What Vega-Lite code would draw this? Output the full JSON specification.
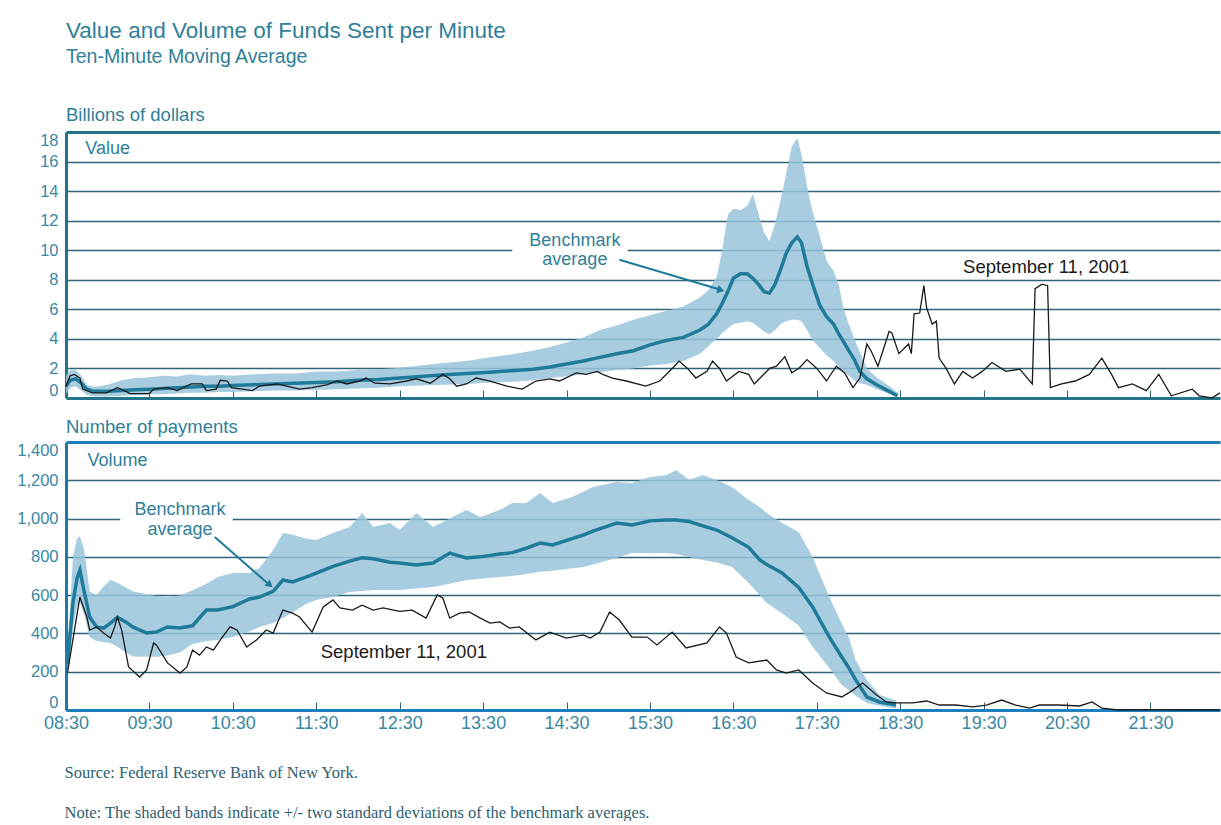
{
  "$schema": "https://vega.github.io/schema/vega-lite/v6.json",
  "background": "white",
  "padding": {"left": 0, "right": 0, "top": 19, "bottom": 0},
  "title": {"text": "Value and Volume of Funds Sent per Minute", "subtitle": "Ten-Minute Moving Average", "anchor": "start", "frame": "group", "dx": 0, "fontSize": 22.5, "subtitleFontSize": 19.5, "color": "#2f7f99", "subtitleColor": "#2f7f99", "fontWeight": "normal", "font": "Liberation Sans", "subtitleFont": "Liberation Sans", "subtitlePadding": 6, "offset": 39},
  "spacing": 14,
  "datasets": {
    "valueBench": [
      {"m":510,"lo":0.3,"avg":0.8,"hi":1.5},{"m":513,"lo":0.7,"avg":1.2,"hi":1.9},{"m":517,"lo":0.8,"avg":1.3,"hi":1.9},{"m":521,"lo":0.5,"avg":1.0,"hi":1.5},{"m":525,"lo":0.2,"avg":0.6,"hi":0.9},{"m":530,"lo":0.1,"avg":0.45,"hi":0.75},{"m":540,"lo":0.1,"avg":0.45,"hi":0.9},{"m":550,"lo":0.15,"avg":0.5,"hi":1.2},{"m":560,"lo":0.2,"avg":0.55,"hi":1.35},{"m":570,"lo":0.25,"avg":0.6,"hi":1.4},{"m":580,"lo":0.25,"avg":0.65,"hi":1.5},{"m":590,"lo":0.3,"avg":0.7,"hi":1.45},{"m":600,"lo":0.35,"avg":0.75,"hi":1.6},{"m":610,"lo":0.35,"avg":0.8,"hi":1.5},{"m":620,"lo":0.4,"avg":0.8,"hi":1.55},{"m":630,"lo":0.4,"avg":0.85,"hi":1.5},{"m":645,"lo":0.45,"avg":0.9,"hi":1.6},{"m":660,"lo":0.5,"avg":0.95,"hi":1.65},{"m":675,"lo":0.5,"avg":1.0,"hi":1.65},{"m":690,"lo":0.55,"avg":1.05,"hi":1.8},{"m":705,"lo":0.6,"avg":1.1,"hi":1.8},{"m":720,"lo":0.65,"avg":1.2,"hi":1.9},{"m":735,"lo":0.7,"avg":1.25,"hi":1.95},{"m":750,"lo":0.8,"avg":1.35,"hi":2.05},{"m":765,"lo":0.85,"avg":1.45,"hi":2.2},{"m":780,"lo":0.9,"avg":1.55,"hi":2.35},{"m":798,"lo":0.95,"avg":1.65,"hi":2.5},{"m":815,"lo":1.05,"avg":1.75,"hi":2.75},{"m":830,"lo":1.1,"avg":1.85,"hi":2.95},{"m":846,"lo":1.2,"avg":1.95,"hi":3.2},{"m":858,"lo":1.35,"avg":2.1,"hi":3.45},{"m":870,"lo":1.45,"avg":2.3,"hi":3.75},{"m":882,"lo":1.6,"avg":2.5,"hi":4.1},{"m":894,"lo":1.75,"avg":2.75,"hi":4.6},{"m":906,"lo":1.9,"avg":3.0,"hi":4.9},{"m":918,"lo":2.0,"avg":3.2,"hi":5.3},{"m":930,"lo":2.2,"avg":3.6,"hi":5.6},{"m":942,"lo":2.3,"avg":3.9,"hi":5.9},{"m":954,"lo":2.5,"avg":4.1,"hi":6.2},{"m":966,"lo":3.0,"avg":4.6,"hi":6.8},{"m":972,"lo":3.5,"avg":5.0,"hi":7.3},{"m":978,"lo":4.0,"avg":5.7,"hi":8.2},{"m":982,"lo":4.4,"avg":6.4,"hi":10.0},{"m":986,"lo":4.7,"avg":7.2,"hi":12.4},{"m":990,"lo":5.0,"avg":8.1,"hi":12.8},{"m":995,"lo":5.1,"avg":8.4,"hi":12.7},{"m":1000,"lo":5.2,"avg":8.4,"hi":13.0},{"m":1004,"lo":5.1,"avg":8.1,"hi":13.8},{"m":1008,"lo":4.8,"avg":7.7,"hi":12.5},{"m":1012,"lo":4.5,"avg":7.2,"hi":11.2},{"m":1016,"lo":4.3,"avg":7.1,"hi":10.6},{"m":1020,"lo":4.6,"avg":7.7,"hi":11.8},{"m":1024,"lo":5.0,"avg":8.7,"hi":13.4},{"m":1028,"lo":5.2,"avg":9.8,"hi":15.2},{"m":1032,"lo":5.3,"avg":10.5,"hi":17.0},{"m":1036,"lo":5.3,"avg":10.9,"hi":17.6},{"m":1039,"lo":5.2,"avg":10.5,"hi":16.5},{"m":1043,"lo":4.6,"avg":8.9,"hi":14.3},{"m":1047,"lo":3.9,"avg":7.7,"hi":12.6},{"m":1052,"lo":3.4,"avg":6.3,"hi":11.0},{"m":1057,"lo":2.9,"avg":5.5,"hi":9.3},{"m":1062,"lo":2.5,"avg":5.0,"hi":8.6},{"m":1066,"lo":2.1,"avg":4.3,"hi":7.6},{"m":1069,"lo":1.8,"avg":3.85,"hi":6.1},{"m":1073,"lo":1.5,"avg":3.2,"hi":5.0},{"m":1077,"lo":1.2,"avg":2.6,"hi":4.0},{"m":1081,"lo":1.0,"avg":1.8,"hi":3.1},{"m":1086,"lo":0.9,"avg":1.3,"hi":2.0},{"m":1093,"lo":0.6,"avg":0.9,"hi":1.4},{"m":1100,"lo":0.35,"avg":0.55,"hi":0.95},{"m":1108,"lo":0.05,"avg":0.15,"hi":0.35}
    ],
    "value911": [
      {"m":510,"v":0.8},{"m":513,"v":1.5},{"m":516,"v":1.6},{"m":520,"v":1.35},{"m":522,"v":0.6},{"m":529,"v":0.35},{"m":539,"v":0.35},{"m":547,"v":0.7},{"m":552,"v":0.5},{"m":556,"v":0.3},{"m":570,"v":0.3},{"m":573,"v":0.6},{"m":583,"v":0.7},{"m":590,"v":0.5},{"m":600,"v":0.95},{"m":608,"v":0.95},{"m":611,"v":0.5},{"m":618,"v":0.6},{"m":621,"v":1.2},{"m":626,"v":1.15},{"m":629,"v":0.7},{"m":637,"v":0.6},{"m":644,"v":0.5},{"m":649,"v":0.8},{"m":662,"v":0.95},{"m":671,"v":0.75},{"m":678,"v":0.6},{"m":687,"v":0.7},{"m":698,"v":0.9},{"m":705,"v":1.15},{"m":712,"v":0.95},{"m":721,"v":1.15},{"m":726,"v":1.35},{"m":732,"v":1.0},{"m":743,"v":0.95},{"m":755,"v":1.15},{"m":762,"v":1.3},{"m":772,"v":1.0},{"m":781,"v":1.6},{"m":786,"v":1.3},{"m":791,"v":0.8},{"m":798,"v":0.95},{"m":805,"v":1.35},{"m":815,"v":1.15},{"m":827,"v":0.8},{"m":838,"v":0.6},{"m":848,"v":1.15},{"m":858,"v":1.3},{"m":865,"v":1.15},{"m":877,"v":1.7},{"m":884,"v":1.6},{"m":892,"v":1.8},{"m":896,"v":1.6},{"m":903,"v":1.35},{"m":913,"v":1.15},{"m":927,"v":0.8},{"m":937,"v":1.15},{"m":946,"v":2.0},{"m":951,"v":2.5},{"m":957,"v":2.0},{"m":963,"v":1.35},{"m":971,"v":1.8},{"m":975,"v":2.5},{"m":980,"v":2.0},{"m":985,"v":1.15},{"m":994,"v":1.8},{"m":1001,"v":1.6},{"m":1005,"v":0.95},{"m":1016,"v":2.0},{"m":1021,"v":2.15},{"m":1027,"v":2.8},{"m":1032,"v":1.7},{"m":1037,"v":2.0},{"m":1043,"v":2.6},{"m":1050,"v":2.0},{"m":1057,"v":1.15},{"m":1064,"v":2.15},{"m":1070,"v":1.7},{"m":1076,"v":0.7},{"m":1081,"v":1.35},{"m":1086,"v":3.65},{"m":1089,"v":3.2},{"m":1094,"v":2.15},{"m":1102,"v":4.5},{"m":1104,"v":4.4},{"m":1109,"v":3.0},{"m":1116,"v":3.65},{"m":1118,"v":3.0},{"m":1120,"v":5.7},{"m":1124,"v":5.75},{"m":1127,"v":7.6},{"m":1129,"v":6.1},{"m":1133,"v":5.0},{"m":1136,"v":5.2},{"m":1138,"v":2.7},{"m":1143,"v":2.0},{"m":1149,"v":0.95},{"m":1155,"v":1.8},{"m":1162,"v":1.35},{"m":1169,"v":1.8},{"m":1176,"v":2.4},{"m":1186,"v":1.8},{"m":1196,"v":1.95},{"m":1205,"v":0.95},{"m":1207,"v":7.4},{"m":1212,"v":7.7},{"m":1216,"v":7.6},{"m":1218,"v":0.7},{"m":1226,"v":0.95},{"m":1236,"v":1.15},{"m":1246,"v":1.6},{"m":1255,"v":2.7},{"m":1262,"v":1.6},{"m":1267,"v":0.7},{"m":1277,"v":0.95},{"m":1287,"v":0.5},{"m":1296,"v":1.6},{"m":1305,"v":0.15},{"m":1320,"v":0.6},{"m":1325,"v":0.15},{"m":1334,"v":0.0},{"m":1340,"v":0.35}
    ],
    "volumeBench": [
      {"m":511,"lo":190,"avg":240,"hi":280},{"m":515,"lo":430,"avg":560,"hi":800},{"m":518,"lo":540,"avg":690,"hi":900},{"m":520,"lo":560,"avg":731,"hi":906},{"m":523,"lo":500,"avg":620,"hi":840},{"m":527,"lo":380,"avg":486,"hi":620},{"m":532,"lo":360,"avg":434,"hi":600},{"m":537,"lo":355,"avg":428,"hi":645},{"m":542,"lo":350,"avg":454,"hi":680},{"m":547,"lo":330,"avg":484,"hi":665},{"m":553,"lo":300,"avg":460,"hi":640},{"m":558,"lo":280,"avg":434,"hi":620},{"m":568,"lo":278,"avg":402,"hi":605},{"m":575,"lo":278,"avg":407,"hi":595},{"m":583,"lo":285,"avg":434,"hi":590},{"m":592,"lo":300,"avg":428,"hi":598},{"m":601,"lo":345,"avg":440,"hi":625},{"m":611,"lo":360,"avg":522,"hi":660},{"m":619,"lo":366,"avg":522,"hi":695},{"m":630,"lo":381,"avg":540,"hi":716},{"m":642,"lo":410,"avg":580,"hi":716},{"m":649,"lo":434,"avg":590,"hi":740},{"m":659,"lo":454,"avg":620,"hi":836},{"m":666,"lo":480,"avg":679,"hi":925},{"m":673,"lo":510,"avg":669,"hi":915},{"m":683,"lo":555,"avg":695,"hi":895},{"m":690,"lo":575,"avg":715,"hi":888},{"m":702,"lo":590,"avg":750,"hi":925},{"m":714,"lo":616,"avg":778,"hi":956},{"m":723,"lo":622,"avg":795,"hi":1029},{"m":731,"lo":627,"avg":790,"hi":956},{"m":743,"lo":627,"avg":772,"hi":977},{"m":750,"lo":627,"avg":768,"hi":940},{"m":762,"lo":635,"avg":757,"hi":1029},{"m":774,"lo":643,"avg":768,"hi":956},{"m":786,"lo":660,"avg":820,"hi":1000},{"m":798,"lo":679,"avg":794,"hi":1045},{"m":808,"lo":685,"avg":800,"hi":1008},{"m":822,"lo":695,"avg":815,"hi":1045},{"m":831,"lo":700,"avg":822,"hi":1081},{"m":841,"lo":710,"avg":845,"hi":1081},{"m":851,"lo":722,"avg":872,"hi":1134},{"m":860,"lo":728,"avg":862,"hi":1081},{"m":874,"lo":740,"avg":895,"hi":1113},{"m":882,"lo":747,"avg":914,"hi":1140},{"m":889,"lo":760,"avg":935,"hi":1165},{"m":906,"lo":794,"avg":977,"hi":1191},{"m":917,"lo":820,"avg":966,"hi":1186},{"m":930,"lo":820,"avg":988,"hi":1217},{"m":942,"lo":820,"avg":993,"hi":1228},{"m":949,"lo":815,"avg":993,"hi":1254},{"m":958,"lo":799,"avg":985,"hi":1202},{"m":968,"lo":784,"avg":962,"hi":1228},{"m":978,"lo":770,"avg":940,"hi":1202},{"m":989,"lo":747,"avg":900,"hi":1165},{"m":1001,"lo":663,"avg":850,"hi":1097},{"m":1009,"lo":600,"avg":784,"hi":1060},{"m":1014,"lo":559,"avg":760,"hi":1029},{"m":1025,"lo":506,"avg":716,"hi":977},{"m":1037,"lo":440,"avg":640,"hi":930},{"m":1047,"lo":330,"avg":538,"hi":799},{"m":1059,"lo":220,"avg":381,"hi":590},{"m":1068,"lo":130,"avg":277,"hi":450},{"m":1073,"lo":104,"avg":220,"hi":381},{"m":1078,"lo":75,"avg":157,"hi":260},{"m":1086,"lo":37,"avg":68,"hi":157},{"m":1095,"lo":22,"avg":42,"hi":80},{"m":1107,"lo":8,"avg":26,"hi":50}
    ],
    "volume911": [
      {"m":511,"v":193},{"m":520,"v":590},{"m":525,"v":486},{"m":527,"v":418},{"m":532,"v":434},{"m":537,"v":402},{"m":542,"v":376},{"m":545,"v":434},{"m":547,"v":486},{"m":550,"v":418},{"m":555,"v":225},{"m":563,"v":172},{"m":568,"v":209},{"m":573,"v":350},{"m":575,"v":340},{"m":583,"v":246},{"m":592,"v":193},{"m":597,"v":225},{"m":601,"v":313},{"m":606,"v":287},{"m":611,"v":329},{"m":616,"v":313},{"m":621,"v":366},{"m":628,"v":434},{"m":633,"v":418},{"m":640,"v":329},{"m":647,"v":366},{"m":654,"v":418},{"m":659,"v":402},{"m":666,"v":522},{"m":673,"v":506},{"m":678,"v":486},{"m":687,"v":407},{"m":695,"v":538},{"m":702,"v":575},{"m":707,"v":533},{"m":716,"v":522},{"m":723,"v":548},{"m":731,"v":522},{"m":738,"v":533},{"m":750,"v":515},{"m":759,"v":522},{"m":769,"v":480},{"m":777,"v":601},{"m":781,"v":585},{"m":786,"v":480},{"m":793,"v":506},{"m":800,"v":512},{"m":808,"v":480},{"m":815,"v":454},{"m":822,"v":460},{"m":829,"v":428},{"m":836,"v":434},{"m":848,"v":366},{"m":858,"v":407},{"m":870,"v":376},{"m":882,"v":392},{"m":887,"v":376},{"m":894,"v":407},{"m":901,"v":512},{"m":908,"v":470},{"m":917,"v":381},{"m":928,"v":381},{"m":935,"v":340},{"m":946,"v":407},{"m":956,"v":324},{"m":971,"v":350},{"m":980,"v":434},{"m":985,"v":402},{"m":992,"v":277},{"m":1001,"v":246},{"m":1014,"v":261},{"m":1021,"v":209},{"m":1028,"v":193},{"m":1037,"v":209},{"m":1047,"v":141},{"m":1057,"v":89},{"m":1068,"v":68},{"m":1076,"v":104},{"m":1083,"v":141},{"m":1093,"v":78},{"m":1100,"v":42},{"m":1107,"v":37},{"m":1119,"v":37},{"m":1129,"v":47},{"m":1138,"v":26},{"m":1150,"v":26},{"m":1162,"v":16},{"m":1172,"v":26},{"m":1183,"v":52},{"m":1193,"v":26},{"m":1203,"v":10},{"m":1210,"v":26},{"m":1224,"v":26},{"m":1239,"v":21},{"m":1248,"v":42},{"m":1255,"v":10},{"m":1267,"v":0},{"m":1290,"v":2},{"m":1310,"v":0},{"m":1340,"v":0}
    ]
  },
  "vconcat": [
    {
      "width": 1154,
      "height": 266,
      "title": {"text": "Billions of dollars", "anchor": "start", "frame": "group", "fontSize": 18.5, "fontWeight": "normal", "color": "#2f7f99", "font": "Liberation Sans", "offset": 8},
      "layer": [
        {
          "data": {"name": "valueBench"},
          "mark": {"type": "area", "color": "#99c4db", "opacity": 0.85},
          "encoding": {
            "x": {"field": "m", "type": "quantitative", "scale": {"domain": [510, 1340], "nice": false, "zero": false},
                  "axis": {"values": [570, 630, 690, 750, 810, 870, 930, 990, 1050, 1110, 1170, 1230, 1290], "tickCount": 40, "labels": false, "ticks": true, "tickSize": -8, "tickColor": "#2c6678", "tickWidth": 1, "domain": false, "grid": false, "title": null}},
            "y": {"field": "lo", "type": "quantitative", "scale": {"domain": [0, 18], "nice": false},
                  "axis": {"values": [0, 2, 4, 6, 8, 10, 12, 14, 16, 18], "format": "d", "tickCount": 30, "labelOverlap": false, "title": null, "grid": true,
                           "gridColor": {"condition": {"test": "datum.value == 0 || datum.value == 18", "value": "#24748c"}, "value": "#2c6678"},
                           "gridWidth": {"condition": {"test": "datum.value == 0 || datum.value == 18", "value": 3}, "value": 1.3},
                           "domain": true, "domainColor": "#24748c", "domainWidth": 3, "ticks": false, "labelFlush": true,
                           "labelFont": "Liberation Sans", "labelFontSize": 16.5, "labelColor": "#3a88a3", "labelPadding": 8, "minExtent": 66, "maxExtent": 66}},
            "y2": {"field": "hi"}
          }
        },
        {
          "data": {"values": [{"m1": 831, "m2": 914, "v1": 9.75, "v2": 10.3}]},
          "mark": {"type": "rect", "color": "white"},
          "encoding": {"x": {"field": "m1", "type": "quantitative"}, "x2": {"field": "m2"}, "y": {"field": "v1", "type": "quantitative"}, "y2": {"field": "v2"}}
        },
        {
          "data": {"name": "valueBench"},
          "mark": {"type": "line", "color": "#1f7b99", "strokeWidth": 3.5},
          "encoding": {"x": {"field": "m", "type": "quantitative"}, "y": {"field": "avg", "type": "quantitative"}}
        },
        {
          "data": {"name": "value911"},
          "mark": {"type": "line", "color": "#1a1a1a", "strokeWidth": 1.3},
          "encoding": {"x": {"field": "m", "type": "quantitative"}, "y": {"field": "v", "type": "quantitative"}}
        },
        {
          "data": {"values": [{"m": 540, "v": 16.85, "t": "Value"}, {"m": 876, "v": 10.6, "t": "Benchmark"}, {"m": 876, "v": 9.37, "t": "average"}]},
          "mark": {"type": "text", "color": "#2f7f99", "fontSize": 18, "font": "Liberation Sans", "align": "center", "baseline": "middle"},
          "encoding": {"x": {"field": "m", "type": "quantitative"}, "y": {"field": "v", "type": "quantitative"}, "text": {"field": "t"}}
        },
        {
          "data": {"values": [{"m": 1215, "v": 8.86, "t": "September 11, 2001"}]},
          "mark": {"type": "text", "color": "#1a1a1a", "fontSize": 18.5, "font": "Liberation Sans", "align": "center", "baseline": "middle"},
          "encoding": {"x": {"field": "m", "type": "quantitative"}, "y": {"field": "v", "type": "quantitative"}, "text": {"field": "t"}}
        },
        {
          "data": {"values": [{"m1": 908, "v1": 9.35, "m2": 979, "v2": 7.38}]},
          "mark": {"type": "rule", "color": "#1f7b99", "strokeWidth": 2},
          "encoding": {"x": {"field": "m1", "type": "quantitative"}, "x2": {"field": "m2"}, "y": {"field": "v1", "type": "quantitative"}, "y2": {"field": "v2"}}
        },
        {
          "data": {"values": [{"m": 981, "v": 7.3}]},
          "mark": {"type": "point", "shape": "triangle-right", "angle": 16, "size": 70, "filled": true, "color": "#1f7b99", "opacity": 1},
          "encoding": {"x": {"field": "m", "type": "quantitative"}, "y": {"field": "v", "type": "quantitative"}}
        }
      ]
    },
    {
      "width": 1154,
      "height": 268,
      "title": {"text": "Number of payments", "anchor": "start", "frame": "group", "fontSize": 18.5, "fontWeight": "normal", "color": "#2f7f99", "font": "Liberation Sans", "offset": 6},
      "layer": [
        {
          "data": {"name": "volumeBench"},
          "mark": {"type": "area", "color": "#99c4db", "opacity": 0.85},
          "encoding": {
            "x": {"field": "m", "type": "quantitative", "scale": {"domain": [510, 1340], "nice": false, "zero": false},
                  "axis": {"values": [510, 570, 630, 690, 750, 810, 870, 930, 990, 1050, 1110, 1170, 1230, 1290], "tickCount": 40,
                           "labelExpr": "(floor(datum.value/60) < 10 ? '0' : '') + floor(datum.value/60) + ':' + (datum.value % 60 < 10 ? '0' : '') + (datum.value % 60)",
                           "labelFont": "Liberation Sans", "labelFontSize": 18, "labelColor": "#3a88a3", "labelPadding": 12, "labelFlush": false, "labelOverlap": false,
                           "ticks": true, "tickSize": -8, "tickColor": "#2c6678", "tickWidth": 1,
                           "domain": true, "domainColor": "#1b7fc0", "domainWidth": 3, "grid": false,
                           "title": ["Source: Federal Reserve Bank of New York.", "Note: The shaded bands indicate +/- two standard deviations of the benchmark averages."],
                           "titleFont": "Liberation Serif", "titleFontSize": 16.5, "titleFontWeight": "normal", "titleColor": "#2e6070",
                           "titleAnchor": "start", "titleAlign": "left", "titleBaseline": "top", "titleX": -2, "titleY": 54, "titleLineHeight": 40}},
            "y": {"field": "lo", "type": "quantitative", "scale": {"domain": [0, 1400], "nice": false},
                  "axis": {"values": [0, 200, 400, 600, 800, 1000, 1200, 1400], "tickCount": 30, "labelOverlap": false, "format": ",d", "title": null, "grid": true,
                           "gridColor": {"condition": {"test": "datum.value == 1400", "value": "#1b7fc0"}, "value": "#2c6678"},
                           "gridWidth": {"condition": {"test": "datum.value == 1400", "value": 3}, "value": 1.3},
                           "domain": true, "domainColor": "#1f7aa8", "domainWidth": 3, "ticks": false, "labelFlush": true,
                           "labelFont": "Liberation Sans", "labelFontSize": 16.5, "labelColor": "#3a88a3", "labelPadding": 8, "minExtent": 66, "maxExtent": 66}},
            "y2": {"field": "hi"}
          }
        },
        {
          "data": {"values": [{"m1": 549, "m2": 630, "v1": 975, "v2": 1025}]},
          "mark": {"type": "rect", "color": "white"},
          "encoding": {"x": {"field": "m1", "type": "quantitative"}, "x2": {"field": "m2"}, "y": {"field": "v1", "type": "quantitative"}, "y2": {"field": "v2"}}
        },
        {
          "data": {"name": "volumeBench"},
          "mark": {"type": "line", "color": "#1f7b99", "strokeWidth": 3.5},
          "encoding": {"x": {"field": "m", "type": "quantitative"}, "y": {"field": "avg", "type": "quantitative"}}
        },
        {
          "data": {"name": "volume911"},
          "mark": {"type": "line", "color": "#1a1a1a", "strokeWidth": 1.3},
          "encoding": {"x": {"field": "m", "type": "quantitative"}, "y": {"field": "v", "type": "quantitative"}}
        },
        {
          "data": {"values": [{"m": 547, "v": 1301, "t": "Volume"}, {"m": 592, "v": 1045, "t": "Benchmark"}, {"m": 592, "v": 940, "t": "average"}]},
          "mark": {"type": "text", "color": "#2f7f99", "fontSize": 18, "font": "Liberation Sans", "align": "center", "baseline": "middle"},
          "encoding": {"x": {"field": "m", "type": "quantitative"}, "y": {"field": "v", "type": "quantitative"}, "text": {"field": "t"}}
        },
        {
          "data": {"values": [{"m": 753, "v": 303, "t": "September 11, 2001"}]},
          "mark": {"type": "text", "color": "#1a1a1a", "fontSize": 18.5, "font": "Liberation Sans", "align": "center", "baseline": "middle"},
          "encoding": {"x": {"field": "m", "type": "quantitative"}, "y": {"field": "v", "type": "quantitative"}, "text": {"field": "t"}}
        },
        {
          "data": {"values": [{"m1": 617, "v1": 904, "m2": 655, "v2": 662}]},
          "mark": {"type": "rule", "color": "#1f7b99", "strokeWidth": 2},
          "encoding": {"x": {"field": "m1", "type": "quantitative"}, "x2": {"field": "m2"}, "y": {"field": "v1", "type": "quantitative"}, "y2": {"field": "v2"}}
        },
        {
          "data": {"values": [{"m": 656.6, "v": 653}]},
          "mark": {"type": "point", "shape": "triangle-right", "angle": 41, "size": 70, "filled": true, "color": "#1f7b99", "opacity": 1},
          "encoding": {"x": {"field": "m", "type": "quantitative"}, "y": {"field": "v", "type": "quantitative"}}
        }
      ]
    }
  ],
  "config": {
    "font": "Liberation Sans",
    "view": {"stroke": null}
  }
}
